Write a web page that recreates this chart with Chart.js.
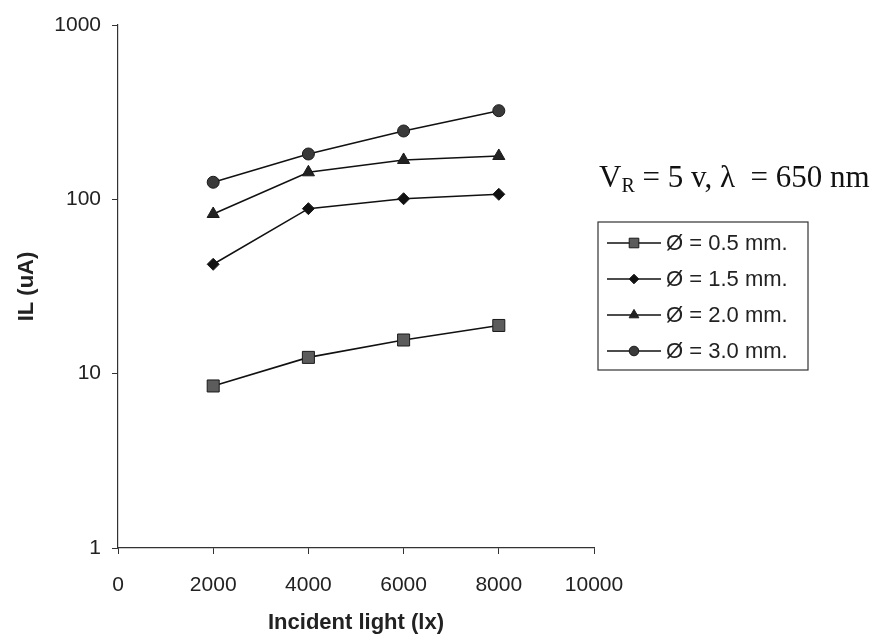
<!DOCTYPE html>
<html>
<head>
<meta charset="utf-8">
<title>IL vs incident light</title>
<script src="https://cdn.jsdelivr.net/npm/chart.js@4.4.1/dist/chart.umd.min.js"></script>
<style>
  html, body { margin: 0; padding: 0; background: #fff; }
</style>
</head>
<body>
<canvas id="ilChart" width="876" height="640"></canvas>
<script>
// incident light (lx) at each measurement
const lightLevels = [2000, 4000, 6000, 8000];

// photocurrent IL (uA) for each aperture diameter
const il05 = [8.5, 12.4, 15.6, 18.9];
const il15 = [42.4, 88.4, 100.8, 106.9];
const il20 = [82.4, 142.9, 168.2, 177.3];
const il30 = [125.3, 182.0, 246.6, 322.5];

const seriesLabels = ['Ø = 0.5 mm.', 'Ø = 1.5 mm.', 'Ø = 2.0 mm.', 'Ø = 3.0 mm.'];
const yTickValues = [1, 10, 100, 1000];

const sans = "'Liberation Sans', Arial, sans-serif";
const serif = "'Liberation Serif', 'Times New Roman', serif";

function makeSeries(label, values, style, fill, radius) {
  return {
    label: label,
    data: lightLevels.map((x, i) => ({ x: x, y: values[i] })),
    borderColor: '#111',
    borderWidth: 1.6,
    pointStyle: style,
    pointRadius: radius,
    pointBackgroundColor: fill,
    pointBorderColor: '#1a1a1a',
    pointBorderWidth: 1,
    tension: 0
  };
}

// boxed legend and the test-condition note, drawn to the right of the plot
const sideNotes = {
  id: 'sideNotes',
  afterDraw(chart) {
    const ctx = chart.ctx;
    ctx.save();

    // V_R = 5 v, λ = 650 nm
    ctx.fillStyle = '#111';
    ctx.textBaseline = 'alphabetic';
    ctx.textAlign = 'left';
    let x = 599;
    const base = 187;
    ctx.font = '31px ' + serif;
    ctx.fillText('V', x, base);
    x += ctx.measureText('V').width;
    ctx.font = '20px ' + serif;
    ctx.fillText('R', x, base + 5);
    x += ctx.measureText('R').width;
    ctx.font = '31px ' + serif;
    ctx.fillText(' = 5 v, \u03BB  = 650 nm', x, base);

    // legend box
    const box = { x: 598, y: 222, w: 210, h: 148 };
    ctx.strokeStyle = '#333';
    ctx.lineWidth = 1.2;
    ctx.strokeRect(box.x, box.y, box.w, box.h);

    ctx.font = '22px ' + sans;
    ctx.textBaseline = 'middle';
    chart.data.datasets.forEach((ds, i) => {
      const cy = box.y + 21 + i * 36;
      ctx.strokeStyle = ds.borderColor;
      ctx.lineWidth = 1.4;
      ctx.beginPath();
      ctx.moveTo(box.x + 9, cy);
      ctx.lineTo(box.x + 63, cy);
      ctx.stroke();

      ctx.fillStyle = ds.pointBackgroundColor;
      ctx.strokeStyle = ds.pointBorderColor;
      ctx.lineWidth = 1;
      Chart.helpers.drawPoint(ctx, {
        pointStyle: ds.pointStyle,
        radius: ds.pointRadius * 0.8,
        rotation: 0,
        borderWidth: 1
      }, box.x + 36, cy);

      ctx.fillStyle = '#222';
      ctx.fillText(ds.label, box.x + 68, cy + 1);
    });
    ctx.restore();
  }
};

new Chart(document.getElementById('ilChart'), {
  type: 'line',
  data: {
    datasets: [
      makeSeries(seriesLabels[0], il05, 'rect', '#5c5c5c', 8.5),
      makeSeries(seriesLabels[1], il15, 'rectRot', '#111', 6),
      makeSeries(seriesLabels[2], il20, 'triangle', '#222', 7),
      makeSeries(seriesLabels[3], il30, 'circle', '#3a3a3a', 6)
    ]
  },
  options: {
    responsive: false,
    animation: false,
    layout: { padding: { top: 25, right: 282, bottom: 0, left: 0 } },
    plugins: {
      legend: { display: false },
      tooltip: { enabled: false }
    },
    scales: {
      x: {
        type: 'linear',
        min: 0,
        max: 10000,
        afterFit: axis => { axis.height = 92; },
        ticks: {
          stepSize: 2000,
          maxRotation: 0,
          padding: 19,
          color: '#222',
          font: { family: sans, size: 21 },
          callback: v => String(v)
        },
        grid: { drawOnChartArea: false, drawTicks: true, tickLength: 6, color: '#333' },
        border: { color: '#333', width: 1.2 },
        title: {
          display: true,
          text: 'Incident light (lx)',
          color: '#222',
          font: { family: sans, size: 22, weight: 'bold' },
          padding: { top: 0, bottom: 4 }
        }
      },
      y: {
        type: 'logarithmic',
        min: 1,
        max: 1000,
        afterFit: axis => { axis.width = 118; },
        afterBuildTicks: axis => {
          axis.ticks = yTickValues.map(v => ({ value: v }));
        },
        ticks: {
          padding: 11,
          color: '#222',
          font: { family: sans, size: 21 },
          callback: v => String(v)
        },
        grid: { drawOnChartArea: false, drawTicks: true, tickLength: 6, color: '#333' },
        border: { color: '#333', width: 1.2 },
        title: {
          display: true,
          text: 'IL (uA)',
          color: '#222',
          font: { family: sans, size: 22, weight: 'bold' },
          padding: { top: 14, bottom: 0 }
        }
      }
    }
  },
  plugins: [sideNotes]
});
</script>
</body>
</html>
